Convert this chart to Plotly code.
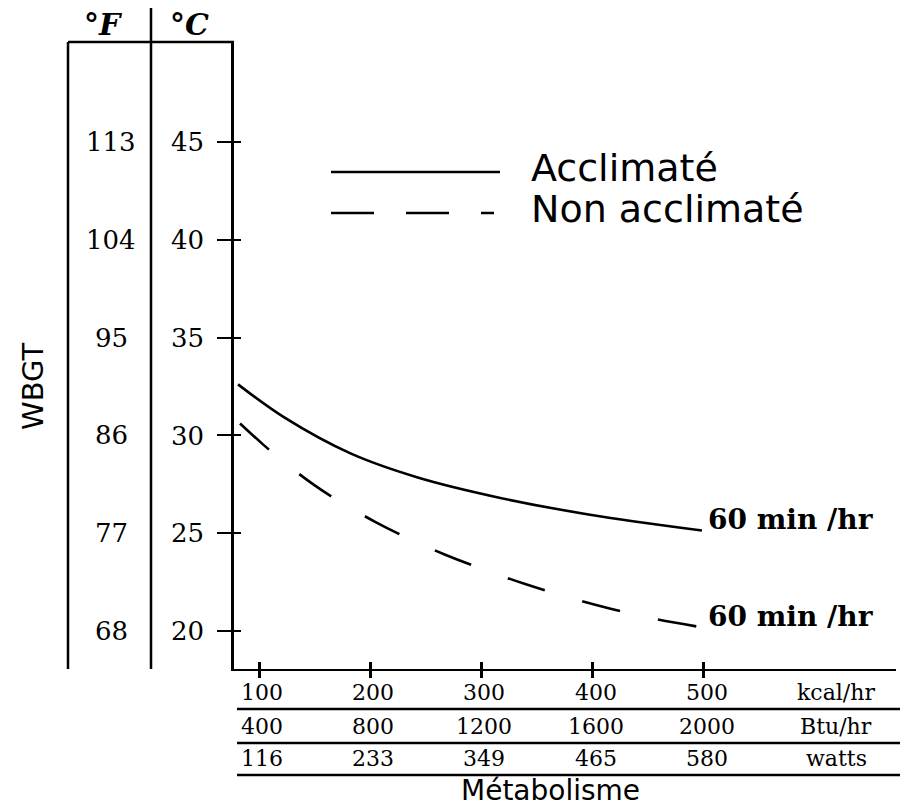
import plotly.graph_objects as go

# ---------------- data ----------------
kcal_ticks = [100, 200, 300, 400, 500]
btu_ticks = [400, 800, 1200, 1600, 2000]
watt_ticks = [116, 233, 349, 465, 580]
unit_labels = ["kcal/hr", "Btu/hr", "watts"]

c_ticks = [20, 25, 30, 35, 40, 45]
f_ticks = [68, 77, 86, 95, 104, 113]

accl_x = [81.0, 122.6, 182.2, 242.7, 315.0, 396.3, 498.4]
accl_y = [32.61, 30.92, 29.08, 27.85, 26.83, 25.96, 25.14]

nonaccl_x = [82.8, 102.7, 123.5, 149.7, 175.0, 204.8, 235.5, 268.0, 303.3, 339.4, 376.4, 416.2, 456.8, 498.4]
nonaccl_y = [30.61, 29.58, 28.58, 27.46, 26.53, 25.57, 24.70, 23.89, 23.12, 22.40, 21.75, 21.14, 20.61, 20.19]

series_names = ["Acclimaté", "Non acclimaté"]
end_label = "60 min /hr"
y_title = "WBGT"
x_title = "Métabolisme"
f_head = "°F"
c_head = "°C"

# ---------------- layout geometry (page pixels) ----------------
PAGE_W, PAGE_H = 911, 807
OFF = 8                      # default body margin of the page
FIG_W, FIG_H = PAGE_W - OFF, PAGE_H - OFF
PLOT_L, PLOT_R, PLOT_T, PLOT_B = 234, 896, 42, 669
L = PLOT_L - OFF
T = PLOT_T - OFF
R = (OFF + FIG_W) - PLOT_R
B = (OFF + FIG_H) - PLOT_B
PW = PLOT_R - PLOT_L
PH = PLOT_B - PLOT_T


def px2x(px):
    return (px - PLOT_L) / PW


def py2y(py):
    return (PLOT_B - py) / PH


SERIF = "DejaVu Serif"
SANS = "DejaVu Sans"
BLACK = "black"

fig = go.Figure()

fig.add_trace(go.Scatter(x=accl_x, y=accl_y, mode="lines", name=series_names[0],
                         line=dict(color=BLACK, width=2.6, shape="spline"),
                         hoverinfo="skip", showlegend=False))
fig.add_trace(go.Scatter(x=nonaccl_x, y=nonaccl_y, mode="lines", name=series_names[1],
                         line=dict(color=BLACK, width=2.6, shape="spline", dash="39px,39px"),
                         hoverinfo="skip", showlegend=False))
# helper trace for the overlay axes (inside half of the "+" ticks)
fig.add_trace(go.Scatter(x=[None], y=[None], xaxis="x2", yaxis="y2",
                         showlegend=False, hoverinfo="skip"))

xr = [77.4, 673]
yr = [18.06, 50.11]

shapes = []
annotations = []


def vline(px, py0, py1, w=2.5):
    shapes.append(dict(type="line", xref="paper", yref="paper",
                       x0=px2x(px), x1=px2x(px), y0=py2y(py0), y1=py2y(py1),
                       line=dict(color=BLACK, width=w)))


def hline(py, px0, px1, w=2.5, dash="solid"):
    shapes.append(dict(type="line", xref="paper", yref="paper",
                       x0=px2x(px0), x1=px2x(px1), y0=py2y(py), y1=py2y(py),
                       line=dict(color=BLACK, width=w, dash=dash)))


# F / C columns
vline(68, 42, 669)
vline(151, 8, 669)
hline(42, 68, 234)

annotations.append(dict(text=f_head, xref="paper", yref="paper", x=px2x(103), y=py2y(24),
                        showarrow=False, xanchor="center", yanchor="middle",
                        font=dict(family=SERIF, size=30, color=BLACK, weight="bold", style="italic")))
annotations.append(dict(text=c_head, xref="paper", yref="paper", x=px2x(189), y=py2y(24),
                        showarrow=False, xanchor="center", yanchor="middle",
                        font=dict(family=SERIF, size=30, color=BLACK, weight="bold", style="italic")))

for c, f in zip(c_ticks, f_ticks):
    annotations.append(dict(text=str(f), xref="paper", yref="y", x=px2x(111), y=c,
                            showarrow=False, xanchor="center", yanchor="middle",
                            font=dict(family=SERIF, size=26, color=BLACK)))

annotations.append(dict(text=y_title, xref="paper", yref="paper", x=px2x(33), y=py2y(386),
                        showarrow=False, textangle=-90, xanchor="center", yanchor="middle",
                        font=dict(family=SANS, size=29, color=BLACK)))

# bottom table
rows = [(kcal_ticks, 692, unit_labels[0]), (btu_ticks, 726, unit_labels[1]), (watt_ticks, 758, unit_labels[2])]
for vals, ypx, unit in rows:
    for xv, lab in zip(kcal_ticks, vals):
        annotations.append(dict(text=str(lab), xref="x", yref="paper", x=xv, y=py2y(ypx),
                                showarrow=False, xanchor="center", yanchor="middle", xshift=3,
                                font=dict(family=SERIF, size=22, color=BLACK)))
    annotations.append(dict(text=unit, xref="paper", yref="paper", x=px2x(836), y=py2y(ypx),
                            showarrow=False, xanchor="center", yanchor="middle",
                            font=dict(family=SERIF, size=22, color=BLACK)))

for ypx in [709, 743, 775]:
    hline(ypx, 237, 900)

annotations.append(dict(text=x_title, xref="paper", yref="paper", x=px2x(550), y=py2y(808),
                        showarrow=False, xanchor="center", yanchor="bottom", borderpad=0,
                        font=dict(family=SANS, size=28, color=BLACK)))

# legend
hline(172, 331, 500)
hline(213, 331, 494, dash="43px,32px")
annotations.append(dict(text=series_names[0], xref="paper", yref="paper", x=px2x(529), y=py2y(168),
                        showarrow=False, xanchor="left", yanchor="middle",
                        font=dict(family=SANS, size=38, color=BLACK)))
annotations.append(dict(text=series_names[1], xref="paper", yref="paper", x=px2x(529), y=py2y(209),
                        showarrow=False, xanchor="left", yanchor="middle",
                        font=dict(family=SANS, size=38, color=BLACK)))

# end labels
for xs, ys in [(accl_x, accl_y), (nonaccl_x, nonaccl_y)]:
    annotations.append(dict(text=end_label, xref="x", yref="y", x=xs[-1], y=ys[-1],
                            showarrow=False, xanchor="left", yanchor="middle",
                            xshift=4, yshift=11,
                            font=dict(family=SERIF, size=28, color=BLACK, weight="bold")))

axis_common = dict(showgrid=False, zeroline=False, fixedrange=True)

fig.update_layout(
    width=FIG_W, height=FIG_H, autosize=False,
    margin=dict(l=L, r=R, t=T, b=B, pad=0),
    paper_bgcolor="white", plot_bgcolor="white",
    showlegend=False,
    xaxis=dict(range=xr, showline=True, linecolor=BLACK, linewidth=2,
               ticks="outside", ticklen=7, tickwidth=2.5, tickcolor=BLACK,
               tickvals=kcal_ticks, showticklabels=False, **axis_common),
    xaxis2=dict(range=xr, overlaying="x", anchor="y2", side="bottom", showline=False,
                ticks="inside", ticklen=7, tickwidth=2.5, tickcolor=BLACK,
                tickvals=kcal_ticks, showticklabels=False, **axis_common),
    yaxis=dict(range=yr, showline=True, linecolor=BLACK, linewidth=2.5,
               ticks="outside", ticklen=14, tickwidth=2, tickcolor=BLACK,
               tickvals=c_ticks, ticktext=[str(v) for v in c_ticks],
               ticklabelstandoff=8,
               tickfont=dict(family=SERIF, size=26, color=BLACK), **axis_common),
    yaxis2=dict(range=yr, overlaying="y", anchor="x2", side="left", showline=False,
                ticks="inside", ticklen=7, tickwidth=2, tickcolor=BLACK,
                tickvals=c_ticks, showticklabels=False, **axis_common),
    shapes=shapes,
    annotations=annotations,
)

fig.write_html("out.html")
